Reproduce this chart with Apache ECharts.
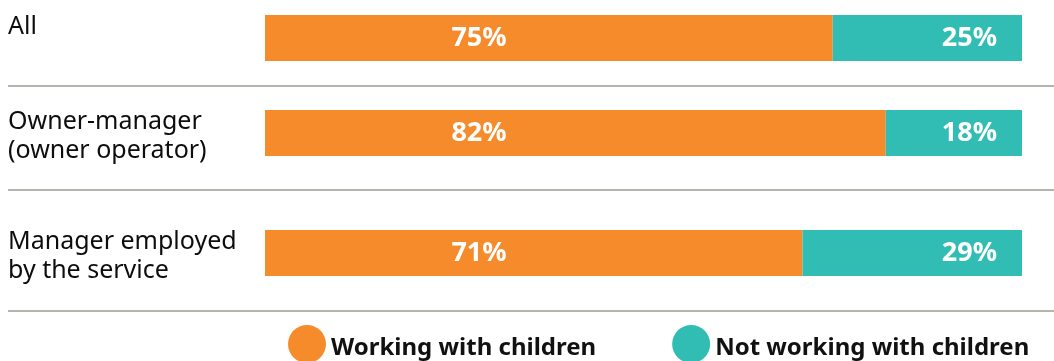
<!DOCTYPE html>
<html>
<head>
<meta charset="utf-8">
<style>
  html, body { margin: 0; padding: 0; background: #ffffff; }
  #chart { width: 1054px; height: 361px; }
</style>
<script src="https://cdn.jsdelivr.net/npm/echarts@6/dist/echarts.min.js"></script>
</head>
<body>
<div id="chart"></div>
<script>
const categories = ['All', 'Owner-manager\n(owner operator)', 'Manager employed\nby the service'];
const working = [75, 82, 71];
const notWorking = [25, 18, 29];
const seriesNames = ['Working with children', 'Not working with children'];

const ORANGE = '#F68B2B';
const TEAL = '#32BDB4';
const FONT = '"Noto Sans", "Open Sans", sans-serif';

const barTops = [15, 110, 230];
const barH = 46;
const sepY = [86, 190, 311];

function catFormatter(v) {
  const lines = v.split('\n');
  while (lines.length < 2) lines.push(' ');
  return '{g| }\n' + lines.map(l => '{t|' + l + '}').join('\n');
}

const grids = [], xAxes = [], yAxes = [], series = [];
categories.forEach((cat, i) => {
  grids.push({ left: 265, right: 32, top: barTops[i], height: barH, containLabel: false });
  xAxes.push({ type: 'value', gridIndex: i, min: 0, max: 100, show: false });
  yAxes.push({
    type: 'category', gridIndex: i, data: [cat], inverse: true,
    axisLine: { show: false }, axisTick: { show: false }, splitLine: { show: false },
    axisLabel: {
      align: 'left', margin: 257, verticalAlign: 'middle',
      formatter: catFormatter,
      rich: {
        t: { fontFamily: FONT, fontSize: 25, lineHeight: 29, color: '#0d0d0d', align: 'left' },
        g: { fontSize: 1, lineHeight: 6 }
      }
    }
  });
  series.push({
    name: seriesNames[0], type: 'bar', stack: 's' + i, xAxisIndex: i, yAxisIndex: i,
    barWidth: '100%', data: [working[i]], itemStyle: { color: ORANGE },
    label: {
      show: true, position: [214, '50%'], align: 'center', verticalAlign: 'middle',
      formatter: '{c}%', color: '#ffffff', fontFamily: FONT, fontWeight: 'bold', fontSize: 27
    },
    silent: true
  });
  series.push({
    name: seriesNames[1], type: 'bar', stack: 's' + i, xAxisIndex: i, yAxisIndex: i,
    barWidth: '100%', data: [notWorking[i]], itemStyle: { color: TEAL },
    label: {
      show: true, position: 'insideRight', distance: 25,
      formatter: '{c}%', color: '#ffffff', fontFamily: FONT, fontWeight: 'bold', fontSize: 27
    },
    silent: true
  });
});

const chart = echarts.init(document.getElementById('chart'), null, { renderer: 'canvas' });
chart.setOption({
  animation: false,
  backgroundColor: '#ffffff',
  grid: grids,
  xAxis: xAxes,
  yAxis: yAxes,
  legend: {
    data: seriesNames,
    left: 288, top: 325, padding: 0,
    icon: 'circle', itemWidth: 38, itemHeight: 38, itemGap: 76,
    formatter: name => '{g| }\n{a|' + name + '}',
    textStyle: {
      rich: {
        a: { fontFamily: FONT, fontWeight: 'bold', fontSize: 24, lineHeight: 28, color: '#111111' },
        g: { fontSize: 1, lineHeight: 8 }
      }
    },
    selectedMode: false
  },
  graphic: sepY.map(y => ({
    type: 'line', shape: { x1: 8, y1: y, x2: 1054, y2: y },
    style: { stroke: '#9c9c92', lineWidth: 1.5 }, silent: true
  })),
  series: series
});
</script>
</body>
</html>
